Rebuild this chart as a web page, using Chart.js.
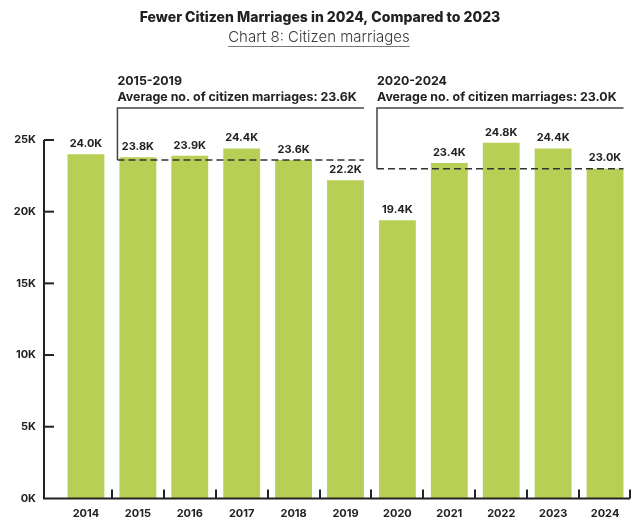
<!DOCTYPE html>
<html lang="en">
  <head>
    <meta charset="UTF-8" />
    <title>Citizen marriages</title>
    <style>
      html, body { margin: 0; padding: 0; background: #fff; }
      .wrap { width: 640px; height: 529px; position: relative; }
    </style>
    <script src="https://cdn.jsdelivr.net/npm/chart.js"></script>
  </head>
  <body>
    <div class="wrap">
      <canvas id="marriageChart" width="640" height="529"></canvas>
    </div>
    <script>
      const years = ["2014", "2015", "2016", "2017", "2018", "2019", "2020", "2021", "2022", "2023", "2024"];
      const marriages = [24000, 23800, 23900, 24400, 23600, 22200, 19400, 23400, 24800, 24400, 23000];
      const yTicks = [0, 5000, 10000, 15000, 20000, 25000];

      const periods = [
        { label: "2015-2019", avgText: "Average no. of citizen marriages: 23.6K", avg: 23600, from: 1, to: 5 },
        { label: "2020-2024", avgText: "Average no. of citizen marriages: 23.0K", avg: 23000, from: 6, to: 10 }
      ];

      const titleText = "Fewer Citizen Marriages in 2024, Compared to 2023";
      const subtitleText = "Chart 8: Citizen marriages";

      const FONT = "Inter, 'Open Sans', sans-serif";
      const INK = "#222222";
      const BAR = "#b8cf55";

      function fmtK(v) {
        return (v / 1000).toFixed(1) + "K";
      }

      const decorPlugin = {
        id: "decor",
        afterDatasetsDraw(chart) {
          const ctx = chart.ctx;
          const x = chart.scales.x;
          const y = chart.scales.y;
          const area = chart.chartArea;
          const meta = chart.getDatasetMeta(0);

          ctx.save();

          // title + subtitle
          ctx.fillStyle = INK;
          ctx.textAlign = "center";
          ctx.textBaseline = "middle";
          ctx.font = "800 14px " + FONT;
          ctx.fillText(titleText, 320, 18);
          ctx.font = "300 15px " + FONT;
          ctx.fillStyle = "#3a3a3a";
          ctx.fillText(subtitleText, 319, 37);
          const subW = ctx.measureText(subtitleText).width;
          ctx.strokeStyle = "#777";
          ctx.lineWidth = 1;
          ctx.beginPath();
          ctx.moveTo(319 - subW / 2, 46.5);
          ctx.lineTo(319 + subW / 2, 46.5);
          ctx.stroke();

          // value labels above bars
          ctx.fillStyle = INK;
          ctx.font = "700 11px " + FONT;
          ctx.textBaseline = "bottom";
          meta.data.forEach((bar, i) => {
            ctx.fillText(fmtK(marriages[i]), bar.x, bar.y - 5);
          });

          // period brackets with dashed average lines
          periods.forEach(p => {
            const b0 = meta.data[p.from];
            const b1 = meta.data[p.to];
            const left = b0.x - b0.width / 2 - 2;
            const right = b1.x + b1.width / 2;
            const yAvg = y.getPixelForValue(p.avg);
            const yTop = 108;

            ctx.strokeStyle = "#444";
            ctx.lineWidth = 1.5;
            ctx.setLineDash([]);
            ctx.beginPath();
            ctx.moveTo(right, yTop);
            ctx.lineTo(left, yTop);
            ctx.lineTo(left, yAvg);
            ctx.stroke();

            ctx.strokeStyle = "#333";
            ctx.setLineDash([7, 4]);
            ctx.beginPath();
            ctx.moveTo(left, yAvg);
            ctx.lineTo(right, yAvg);
            ctx.stroke();
            ctx.setLineDash([]);

            ctx.fillStyle = INK;
            ctx.textAlign = "left";
            ctx.textBaseline = "alphabetic";
            ctx.font = "700 12.4px " + FONT;
            ctx.fillText(p.label, left, 85);
            ctx.fillText(p.avgText, left, 101);
            ctx.textAlign = "center";
          });

          // axes
          const axisX = area.left - 16;
          const y0 = y.getPixelForValue(0);
          ctx.strokeStyle = INK;
          ctx.lineWidth = 2;
          ctx.beginPath();
          ctx.moveTo(axisX, y.getPixelForValue(yTicks[yTicks.length - 1]));
          ctx.lineTo(axisX, y0);
          ctx.lineTo(area.right - 1, y0);
          ctx.stroke();

          yTicks.forEach(v => {
            const py = y.getPixelForValue(v);
            if (v === 0) return;
            ctx.beginPath();
            ctx.moveTo(axisX, py);
            ctx.lineTo(axisX + 10, py);
            ctx.stroke();
          });

          meta.data.forEach((bar, i) => {
            const half = (x.getPixelForValue(1) - x.getPixelForValue(0)) / 2;
            const px = Math.round(x.getPixelForValue(i) + half) - (i === years.length - 1 ? 1 : 0);
            ctx.beginPath();
            ctx.moveTo(px, y0);
            ctx.lineTo(px, y0 - 9);
            ctx.stroke();
          });

          ctx.restore();
        }
      };

      new Chart(document.getElementById("marriageChart"), {
        type: "bar",
        data: {
          labels: years,
          datasets: [
            {
              label: "Citizen marriages",
              data: marriages,
              backgroundColor: BAR,
              borderWidth: 0,
              categoryPercentage: 1,
              barPercentage: 0.71
            }
          ]
        },
        options: {
          responsive: false,
          animation: false,
          layout: { padding: { top: 140, right: 9, left: 0, bottom: 0 } },
          plugins: {
            legend: { display: false },
            tooltip: { enabled: false }
          },
          scales: {
            x: {
              grid: { display: false, drawTicks: false },
              border: { display: false },
              ticks: {
                padding: 9,
                color: INK,
                font: { family: FONT, size: 11, weight: "700" }
              },
              afterFit(scale) { scale.height = 29; }
            },
            y: {
              min: 0,
              max: 25000,
              grid: { display: false, drawTicks: false },
              border: { display: false },
              afterBuildTicks(scale) { scale.ticks = yTicks.map(v => ({ value: v })); },
              ticks: {
                padding: 24,
                color: INK,
                font: { family: FONT, size: 11, weight: "700" },
                callback: v => (v / 1000) + "K"
              },
              afterFit(scale) { scale.width = 60; }
            }
          }
        },
        plugins: [decorPlugin]
      });
    </script>
  </body>
</html>
